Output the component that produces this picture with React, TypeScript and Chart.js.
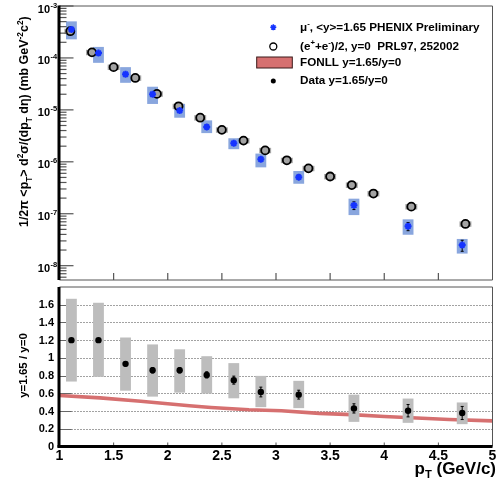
import React, { useEffect, useRef } from 'react';
import { Chart, registerables } from 'chart.js';

Chart.register(...registerables);

// ---------------- data ----------------
const muX = [1.11, 1.36, 1.61, 1.86, 2.11, 2.36, 2.61, 2.86, 3.21, 3.72, 4.22, 4.72];
const muY = [3.52e-4, 1.24e-4, 4.84e-5, 2.0e-5, 9.7e-6, 4.7e-6, 2.28e-6, 1.12e-6, 5.06e-7, 1.45e-7, 5.75e-8, 2.49e-8];
const muSysLo = [2.28e-4, 8.05e-5, 3.32e-5, 1.3e-5, 7.06e-6, 3.57e-6, 1.75e-6, 7.82e-7, 3.78e-7, 9.42e-8, 3.94e-8, 1.71e-8];
const muSysHi = [5.06e-4, 1.63e-4, 6.65e-5, 2.79e-5, 1.3e-5, 6.28e-6, 2.84e-6, 1.44e-6, 6.65e-7, 1.95e-7, 7.8e-8, 3.27e-8];
const muStatRel = [0.02, 0.02, 0.03, 0.03, 0.04, 0.05, 0.06, 0.08, 0.1, 0.17, 0.18, 0.24];

const eeX = [1.1, 1.3, 1.5, 1.7, 1.9, 2.1, 2.3, 2.5, 2.7, 2.9, 3.1, 3.3, 3.5, 3.7, 3.9, 4.25, 4.75];
const eeY = [3.27e-4, 1.28e-4, 6.65e-5, 4.12e-5, 2.03e-5, 1.17e-5, 7.06e-6, 4.12e-6, 2.56e-6, 1.66e-6, 1.07e-6, 7.48e-7, 5.21e-7, 3.57e-7, 2.45e-7, 1.37e-7, 6.37e-8];
const eeSysRel = [0.12, 0.12, 0.12, 0.12, 0.12, 0.12, 0.12, 0.12, 0.12, 0.12, 0.12, 0.12, 0.12, 0.12, 0.12, 0.12, 0.12];

const ratioX = [1.11, 1.36, 1.61, 1.86, 2.11, 2.36, 2.61, 2.86, 3.21, 3.72, 4.22, 4.72];
const ratioY = [1.2, 1.2, 0.933, 0.86, 0.86, 0.808, 0.749, 0.615, 0.585, 0.43, 0.404, 0.378];
const ratioSysLo = [0.733, 0.786, 0.63, 0.563, 0.608, 0.597, 0.544, 0.444, 0.433, 0.278, 0.267, 0.252];
const ratioSysHi = [1.667, 1.622, 1.23, 1.152, 1.097, 1.019, 0.941, 0.797, 0.741, 0.585, 0.541, 0.497];
const ratioStat = [0.02, 0.02, 0.025, 0.03, 0.03, 0.035, 0.045, 0.055, 0.05, 0.052, 0.07, 0.074];

const fonllX = [1.0, 1.375, 1.75, 2.0, 2.2, 2.4, 2.75, 3.05, 3.4, 3.7, 4.0, 4.3, 4.6, 5.0];
const fonllY = [0.575, 0.549, 0.511, 0.482, 0.46, 0.441, 0.415, 0.404, 0.374, 0.36, 0.338, 0.322, 0.304, 0.289];

const xTicks = [1, 1.5, 2, 2.5, 3, 3.5, 4, 4.5, 5];
const xTickLabels = ['1', '1.5', '2', '2.5', '3', '3.5', '4', '4.5', '5'];
const ratioTicks = [0, 0.2, 0.4, 0.6, 0.8, 1, 1.2, 1.4, 1.6];
const ratioTickLabels = ['0', '0.2', '0.4', '0.6', '0.8', '1', '1.2', '1.4', '1.6'];
const logDecades = [-3, -4, -5, -6, -7, -8];

const legendLabels = [
  [{ t: 'μ' }, { t: '-', k: 'sup' }, { t: ', <y>=1.65 PHENIX Preliminary' }],
  [{ t: '(e' }, { t: '+', k: 'sup' }, { t: '+e' }, { t: '-', k: 'sup' }, { t: ')/2, y=0  PRL97, 252002' }],
  [{ t: 'FONLL y=1.65/y=0' }],
  [{ t: 'Data y=1.65/y=0' }],
];
const topYTitle = [
  { t: '1/2π <p' }, { t: 'T', k: 'sub' }, { t: '> d' }, { t: '2', k: 'sup' }, { t: 'σ/(dp' }, { t: 'T', k: 'sub' },
  { t: ' dη) (mb GeV' }, { t: '-2', k: 'sup' }, { t: 'c' }, { t: '2', k: 'sup' }, { t: ')' },
];
const bottomYTitle = [{ t: 'y=1.65 / y=0' }];
const xTitle = [{ t: 'p' }, { t: 'T', k: 'sub' }, { t: ' (GeV/c)' }];

// ---------------- style ----------------
const FONT = '"Liberation Sans", Arial, Helvetica, sans-serif';
const W = 501;
const LEFT = 59.5;
const RIGHT = 492.5;
const TOP_H = 286;
const BOT_TOP = 283;
const BOT_H = 201;
const BLUE = '#1533ff';
const BLUE_BOX = 'rgb(137,166,222)';
const GRAY_BOX = '#bdbdbd';
const EE_BOX = '#a6a6a6';
const RED = 'rgb(214,112,112)';
const FRAME = '#555';

type Seg = { t: string; k?: string };

function segFont(size: number, s: Seg) {
  const sz = s.k ? size * 0.66 : size;
  return `bold ${sz}px ${FONT}`;
}
function richWidth(ctx: CanvasRenderingContext2D, segs: Seg[], size: number) {
  let w = 0;
  for (const s of segs) {
    ctx.font = segFont(size, s);
    w += ctx.measureText(s.t).width;
  }
  return w;
}
function drawRich(ctx: CanvasRenderingContext2D, segs: Seg[], x: number, y: number, size: number, align: string) {
  const w = richWidth(ctx, segs, size);
  let cx = align === 'left' ? x : align === 'center' ? x - w / 2 : x - w;
  ctx.textAlign = 'left';
  ctx.textBaseline = 'alphabetic';
  for (const s of segs) {
    ctx.font = segFont(size, s);
    const dy = s.k === 'sup' ? -size * 0.42 : s.k === 'sub' ? size * 0.28 : 0;
    ctx.fillText(s.t, cx, y + dy);
    cx += ctx.measureText(s.t).width;
  }
}
function line(ctx: CanvasRenderingContext2D, x1: number, y1: number, x2: number, y2: number) {
  ctx.beginPath();
  ctx.moveTo(x1, y1);
  ctx.lineTo(x2, y2);
  ctx.stroke();
}
function drawStar(ctx: CanvasRenderingContext2D, x: number, y: number, r: number) {
  const d = r * 0.707;
  ctx.beginPath();
  ctx.moveTo(x - r, y); ctx.lineTo(x + r, y);
  ctx.moveTo(x, y - r); ctx.lineTo(x, y + r);
  ctx.moveTo(x - d, y - d); ctx.lineTo(x + d, y + d);
  ctx.moveTo(x - d, y + d); ctx.lineTo(x + d, y - d);
  ctx.stroke();
}

const topDecor = {
  id: 'topDecor',
  beforeDatasetsDraw(chart: any) {
    const { ctx, scales } = chart;
    const x = scales.x, y = scales.y;
    ctx.save();
    ctx.fillStyle = EE_BOX;
    eeX.forEach((v, i) => {
      const l = x.getPixelForValue(v - 0.055), r = x.getPixelForValue(v + 0.055);
      const t = y.getPixelForValue(eeY[i] * (1 + eeSysRel[i])), b = y.getPixelForValue(eeY[i] * (1 - eeSysRel[i]));
      ctx.fillRect(l, t, r - l, b - t);
    });
    ctx.fillStyle = BLUE_BOX;
    muX.forEach((v, i) => {
      const l = x.getPixelForValue(v - 0.05), r = x.getPixelForValue(v + 0.05);
      const t = y.getPixelForValue(muSysHi[i]), b = y.getPixelForValue(muSysLo[i]);
      ctx.fillRect(l, t, r - l, b - t);
    });
    ctx.strokeStyle = '#000';
    ctx.lineWidth = 1;
    muX.forEach((v, i) => {
      const px = x.getPixelForValue(v);
      const t = y.getPixelForValue(muY[i] * (1 + muStatRel[i])), b = y.getPixelForValue(muY[i] * (1 - muStatRel[i]));
      line(ctx, px, t, px, b);
      line(ctx, px - 1.5, t, px + 1.5, t);
      line(ctx, px - 1.5, b, px + 1.5, b);
    });
    ctx.restore();
  },
  afterDraw(chart: any) {
    const { ctx, scales, chartArea: a } = chart;
    const x = scales.x, y = scales.y;
    ctx.save();
    ctx.strokeStyle = FRAME;
    ctx.lineWidth = 1;
    line(ctx, a.left, a.top, a.right, a.top);
    line(ctx, a.right, a.top, a.right, a.bottom);
    line(ctx, a.left, a.bottom, a.right, a.bottom);
    ctx.lineWidth = 1.2;
    for (let e = -9; e <= -3; e++) {
      for (let m = 1; m <= 9; m++) {
        const v = m * Math.pow(10, e);
        if (v < y.min * 0.999 || v > y.max * 1.001) continue;
        const py = y.getPixelForValue(v);
        const len = m === 1 ? 14 : 7;
        line(ctx, a.left, py, a.left + len, py);
      }
    }
    xTicks.forEach((v) => {
      if (v <= 1 || v >= 5) return;
      const px = x.getPixelForValue(v);
      line(ctx, px, a.bottom, px, a.bottom - 7);
    });
    ctx.strokeStyle = '#000';
    ctx.lineWidth = 3;
    line(ctx, a.left - 0.5, a.top - 0.5, a.left - 0.5, a.bottom);
    ctx.fillStyle = '#000';
    logDecades.forEach((e) => {
      const py = y.getPixelForValue(Math.pow(10, e));
      ctx.font = `bold 11px ${FONT}`;
      ctx.textAlign = 'right';
      ctx.textBaseline = 'alphabetic';
      ctx.fillText('10', 50, py + 6.5);
      ctx.font = `bold 7.5px ${FONT}`;
      ctx.textAlign = 'left';
      ctx.fillText(String(e), 50.5, py + 1.5);
    });
    ctx.save();
    ctx.translate(28, 121.7);
    ctx.rotate(-Math.PI / 2);
    drawRich(ctx, topYTitle, 0, 0, 12.5, 'center');
    ctx.restore();
    const lx = 300;
    const base = [31, 49.5, 65.8, 84];
    ctx.fillStyle = '#000';
    legendLabels.forEach((segs, i) => drawRich(ctx, segs as Seg[], lx, base[i], 11.7, 'left'));
    ctx.strokeStyle = BLUE;
    ctx.lineWidth = 1.5;
    drawStar(ctx, 273.3, 27.3, 3);
    ctx.strokeStyle = '#000';
    ctx.lineWidth = 1.3;
    ctx.fillStyle = '#fff';
    ctx.beginPath();
    ctx.arc(273.3, 46.5, 3.5, 0, Math.PI * 2);
    ctx.fill();
    ctx.stroke();
    ctx.fillStyle = RED;
    ctx.fillRect(256.7, 57, 35.6, 11);
    ctx.strokeStyle = '#3a1a1a';
    ctx.lineWidth = 1;
    ctx.strokeRect(256.7, 57, 35.6, 11);
    ctx.fillStyle = '#000';
    ctx.beginPath();
    ctx.arc(273.3, 81, 2.5, 0, Math.PI * 2);
    ctx.fill();
    ctx.restore();
  },
};

const bottomDecor = {
  id: 'bottomDecor',
  beforeDatasetsDraw(chart: any) {
    const { ctx, scales, chartArea: a } = chart;
    const y = scales.y;
    ctx.save();
    ratioTicks.forEach((v) => {
      if (v <= 0) return;
      const py = Math.round(y.getPixelForValue(v)) + 0.5;
      ctx.strokeStyle = '#666';
      ctx.lineWidth = 1;
      ctx.setLineDash([]);
      line(ctx, a.left, py, a.left + 12, py);
      ctx.setLineDash([1, 2]);
      ctx.strokeStyle = '#444';
      line(ctx, a.left + 12, py, a.right, py);
    });
    ctx.restore();
  },
  afterDatasetDraw(chart: any, args: any) {
    if (args.index !== 1) return;
    const { ctx, scales } = chart;
    const x = scales.x, y = scales.y;
    ctx.save();
    ctx.fillStyle = GRAY_BOX;
    ratioX.forEach((v, i) => {
      const l = x.getPixelForValue(v - 0.05), r = x.getPixelForValue(v + 0.05);
      const t = y.getPixelForValue(ratioSysHi[i]), b = y.getPixelForValue(ratioSysLo[i]);
      ctx.fillRect(l, t, r - l, b - t);
    });
    ctx.strokeStyle = '#000';
    ctx.lineWidth = 1;
    ratioX.forEach((v, i) => {
      const px = x.getPixelForValue(v);
      const t = y.getPixelForValue(ratioY[i] + ratioStat[i]), b = y.getPixelForValue(ratioY[i] - ratioStat[i]);
      line(ctx, px, t, px, b);
      line(ctx, px - 1.5, t, px + 1.5, t);
      line(ctx, px - 1.5, b, px + 1.5, b);
    });
    ctx.restore();
  },
  afterDraw(chart: any) {
    const { ctx, scales, chartArea: a } = chart;
    const x = scales.x, y = scales.y;
    ctx.save();
    ctx.strokeStyle = FRAME;
    ctx.lineWidth = 1;
    line(ctx, a.left, a.top, a.right, a.top);
    line(ctx, a.right, a.top, a.right, a.bottom);
    xTicks.forEach((v) => {
      if (v <= 1 || v >= 5) return;
      const px = x.getPixelForValue(v);
      line(ctx, px, a.bottom, px, a.bottom - 4);
    });
    ctx.strokeStyle = '#000';
    ctx.lineWidth = 3;
    line(ctx, a.left - 0.5, a.top, a.left - 0.5, a.bottom + 1);
    line(ctx, a.left - 2, a.bottom, a.right, a.bottom);
    ctx.fillStyle = '#000';
    ctx.font = `bold 11px ${FONT}`;
    ctx.textAlign = 'right';
    ctx.textBaseline = 'middle';
    ratioTicks.forEach((v, i) => {
      ctx.fillText(ratioTickLabels[i], 54, y.getPixelForValue(v) + 0.5);
    });
    ctx.font = `bold 14px ${FONT}`;
    ctx.textAlign = 'center';
    xTicks.forEach((v, i) => {
      ctx.fillText(xTickLabels[i], x.getPixelForValue(v), 172.7);
    });
    drawRich(ctx, xTitle, 496, 190.5, 17, 'right');
    ctx.save();
    ctx.translate(27, 82.5);
    ctx.rotate(-Math.PI / 2);
    drawRich(ctx, bottomYTitle, 0, 0, 11.5, 'center');
    ctx.restore();
    ctx.restore();
  },
};

export default function App() {
  const topRef = useRef<HTMLCanvasElement>(null);
  const botRef = useRef<HTMLCanvasElement>(null);

  useEffect(() => {
    const top = new Chart(topRef.current as HTMLCanvasElement, {
      type: 'scatter',
      data: {
        datasets: [
          {
            label: 'mu',
            data: muX.map((v, i) => ({ x: v, y: muY[i] })),
            pointStyle: 'star',
            pointRadius: 3.5,
            borderColor: BLUE,
            backgroundColor: BLUE,
            borderWidth: 2,
          },
          {
            label: 'ee',
            data: eeX.map((v, i) => ({ x: v, y: eeY[i] })),
            pointStyle: 'circle',
            pointRadius: 4,
            backgroundColor: '#a3a3a3',
            borderColor: '#000',
            borderWidth: 1.8,
          },
        ],
      },
      options: {
        animation: false,
        responsive: false,
        maintainAspectRatio: false,
        events: [],
        layout: { padding: { left: LEFT, right: W - RIGHT, top: 3.5, bottom: TOP_H - 284 } },
        plugins: { legend: { display: false }, tooltip: { enabled: false } },
        scales: {
          x: { type: 'linear', min: 1, max: 5, display: false },
          y: { type: 'logarithmic', min: 5.3e-9, max: 1e-3, display: false },
        },
      },
      plugins: [topDecor],
    } as any);

    const bot = new Chart(botRef.current as HTMLCanvasElement, {
      type: 'scatter',
      data: {
        datasets: [
          {
            label: 'Data y=1.65/y=0',
            data: ratioX.map((v, i) => ({ x: v, y: ratioY[i] })),
            pointStyle: 'circle',
            pointRadius: 3.2,
            backgroundColor: '#000',
            borderColor: '#000',
            borderWidth: 0,
          },
          {
            label: 'FONLL',
            data: fonllX.map((v, i) => ({ x: v, y: fonllY[i] })),
            showLine: true,
            pointRadius: 0,
            borderColor: RED,
            borderWidth: 3.6,
            backgroundColor: RED,
          },
        ],
      },
      options: {
        animation: false,
        responsive: false,
        maintainAspectRatio: false,
        events: [],
        layout: { padding: { left: LEFT, right: W - RIGHT, top: 1, bottom: 37.5 } },
        plugins: { legend: { display: false }, tooltip: { enabled: false } },
        scales: {
          x: { type: 'linear', min: 1, max: 5, display: false },
          y: { type: 'linear', min: 0, max: 1.8, display: false },
        },
      },
      plugins: [bottomDecor],
    } as any);

    return () => {
      top.destroy();
      bot.destroy();
    };
  }, []);

  return (
    <div style={{ position: 'absolute', left: 0, top: 0, width: W, height: 484, background: '#fff' }}>
      <canvas ref={topRef} width={W} height={TOP_H} style={{ position: 'absolute', left: 0, top: 0, width: W, height: TOP_H }} />
      <canvas ref={botRef} width={W} height={BOT_H} style={{ position: 'absolute', left: 0, top: BOT_TOP, width: W, height: BOT_H }} />
    </div>
  );
}
